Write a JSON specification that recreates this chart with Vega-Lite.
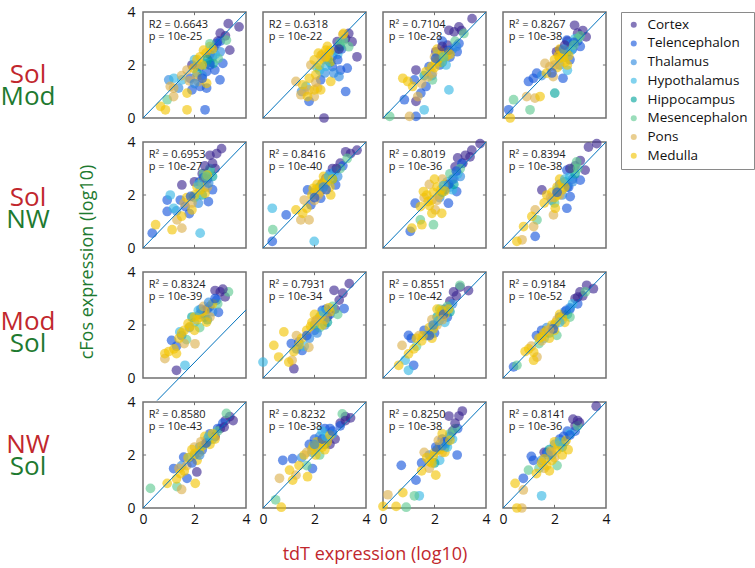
{
  "$schema": "https://vega.github.io/schema/vega-lite/v6.json",
  "background": "white",
  "padding": {"left": 0, "top": 5, "right": 5, "bottom": 5},
  "config": {
    "font": "Open Sans",
    "view": {"stroke": "#707070", "strokeWidth": 1.5},
    "axis": {"grid": false, "domain": false, "ticks": false, "labelFont": "Open Sans", "labelFontSize": 14, "labelColor": "#111111", "labelFlush": false},
    "axisX": {"labelPadding": 4},
    "axisY": {"labelPadding": 8},
    "legend": {"labelFont": "Open Sans", "labelFontSize": 13.5, "labelColor": "#111111"}
  },
  "datasets": {
    "regions": [
      {"g": "Co", "region": "Cortex"}, {"g": "Te", "region": "Telencephalon"}, {"g": "Th", "region": "Thalamus"}, {"g": "Hy", "region": "Hypothalamus"},
      {"g": "Hi", "region": "Hippocampus"}, {"g": "Me", "region": "Mesencephalon"}, {"g": "Po", "region": "Pons"}, {"g": "Md", "region": "Medulla"}
    ],
    "rowlab": [
      {"k": "a", "top": "Sol", "bot": "Mod"},
      {"k": "b", "top": "Sol", "bot": "NW"},
      {"k": "c", "top": "Mod", "bot": "Sol"},
      {"k": "d", "top": "NW", "bot": "Sol"}
    ],
    "pts": [
      {"r":1,"c":1,"t1":"R2 = 0.6643","t2":"p = 10e-25"},
      {"r":1,"c":2,"t1":"R2 = 0.6318","t2":"p = 10e-22"},
      {"r":1,"c":3,"t1":"R² = 0.7104","t2":"p = 10e-28"},
      {"r":1,"c":4,"t1":"R² = 0.8267","t2":"p = 10e-38"},
      {"r":2,"c":1,"t1":"R² = 0.6953","t2":"p = 10e-27"},
      {"r":2,"c":2,"t1":"R² = 0.8416","t2":"p = 10e-40"},
      {"r":2,"c":3,"t1":"R² = 0.8019","t2":"p = 10e-36"},
      {"r":2,"c":4,"t1":"R² = 0.8394","t2":"p = 10e-38"},
      {"r":3,"c":1,"t1":"R² = 0.8324","t2":"p = 10e-39"},
      {"r":3,"c":2,"t1":"R² = 0.7931","t2":"p = 10e-34"},
      {"r":3,"c":3,"t1":"R² = 0.8551","t2":"p = 10e-42"},
      {"r":3,"c":4,"t1":"R² = 0.9184","t2":"p = 10e-52"},
      {"r":4,"c":1,"t1":"R² = 0.8580","t2":"p = 10e-43"},
      {"r":4,"c":2,"t1":"R² = 0.8232","t2":"p = 10e-38"},
      {"r":4,"c":3,"t1":"R² = 0.8250","t2":"p = 10e-38"},
      {"r":4,"c":4,"t1":"R² = 0.8141","t2":"p = 10e-36"},

      {"r":1,"c":1,"lx":0,"ly":0,"lx2":4,"ly2":4},
      {"r":1,"c":2,"lx":0,"ly":0,"lx2":4,"ly2":4},
      {"r":1,"c":3,"lx":0,"ly":0,"lx2":4,"ly2":4},
      {"r":1,"c":4,"lx":0,"ly":0,"lx2":4,"ly2":4},
      {"r":2,"c":1,"lx":0,"ly":0,"lx2":4,"ly2":4},
      {"r":2,"c":2,"lx":0,"ly":0,"lx2":4,"ly2":4},
      {"r":2,"c":3,"lx":0,"ly":0,"lx2":4,"ly2":4},
      {"r":2,"c":4,"lx":0,"ly":0,"lx2":4,"ly2":4},
      {"r":3,"c":1,"lx":0.55,"ly":-0.85,"lx2":4,"ly2":2.57},
      {"r":3,"c":2,"lx":0,"ly":0,"lx2":4,"ly2":4},
      {"r":3,"c":3,"lx":0,"ly":0,"lx2":4,"ly2":4},
      {"r":3,"c":4,"lx":0,"ly":0,"lx2":4,"ly2":4},
      {"r":4,"c":1,"lx":0,"ly":0,"lx2":4,"ly2":4},
      {"r":4,"c":2,"lx":0,"ly":0,"lx2":4,"ly2":4},
      {"r":4,"c":3,"lx":0,"ly":0,"lx2":4,"ly2":4},
      {"r":4,"c":4,"lx":0,"ly":0,"lx2":4,"ly2":4},

      {"r":1,"c":1,"g":"Co","x":3.31,"y":3.56},{"r":1,"c":1,"g":"Co","x":3.73,"y":3.44},{"r":1,"c":1,"g":"Co","x":3.2,"y":3.1},{"r":1,"c":1,"g":"Co","x":3.37,"y":2.56},{"r":1,"c":1,"g":"Co","x":2.75,"y":2.65},{"r":1,"c":1,"g":"Co","x":2.6,"y":2.4},{"r":1,"c":1,"g":"Co","x":1.9,"y":2.0},{"r":1,"c":1,"g":"Co","x":2.9,"y":2.9},
      {"r":1,"c":1,"g":"Te","x":3.1,"y":2.06},{"r":1,"c":1,"g":"Te","x":2.99,"y":1.44},{"r":1,"c":1,"g":"Te","x":2.41,"y":0.31},{"r":1,"c":1,"g":"Te","x":2.22,"y":1.19},{"r":1,"c":1,"g":"Te","x":2.47,"y":1.13},{"r":1,"c":1,"g":"Te","x":2.86,"y":2.81},{"r":1,"c":1,"g":"Te","x":2.22,"y":1.94},{"r":1,"c":1,"g":"Te","x":2.47,"y":1.75},{"r":1,"c":1,"g":"Te","x":2.79,"y":1.81},{"r":1,"c":1,"g":"Te","x":1.83,"y":1.5},{"r":1,"c":1,"g":"Te","x":1.9,"y":1.06},{"r":1,"c":1,"g":"Te","x":2.7,"y":2.3},{"r":1,"c":1,"g":"Te","x":3.0,"y":2.9},
      {"r":1,"c":1,"g":"Th","x":1.0,"y":1.44},{"r":1,"c":1,"g":"Th","x":2.6,"y":2.1},{"r":1,"c":1,"g":"Th","x":1.38,"y":1.13},{"r":1,"c":1,"g":"Th","x":2.3,"y":1.6},{"r":1,"c":1,"g":"Th","x":3.0,"y":2.5},
      {"r":1,"c":1,"g":"Hy","x":1.51,"y":1.44},{"r":1,"c":1,"g":"Hy","x":2.47,"y":2.06},{"r":1,"c":1,"g":"Hy","x":1.2,"y":1.5},{"r":1,"c":1,"g":"Hy","x":2.0,"y":2.2},
      {"r":1,"c":1,"g":"Hi","x":2.73,"y":2.06},{"r":1,"c":1,"g":"Hi","x":2.1,"y":1.7},
      {"r":1,"c":1,"g":"Me","x":0.94,"y":0.69},{"r":1,"c":1,"g":"Me","x":3.24,"y":2.94},{"r":1,"c":1,"g":"Me","x":2.92,"y":2.25},{"r":1,"c":1,"g":"Me","x":2.4,"y":2.0},
      {"r":1,"c":1,"g":"Po","x":1.06,"y":1.19},{"r":1,"c":1,"g":"Po","x":1.19,"y":1.13},{"r":1,"c":1,"g":"Po","x":2.09,"y":1.56},{"r":1,"c":1,"g":"Po","x":1.71,"y":1.81},{"r":1,"c":1,"g":"Po","x":2.15,"y":1.38},{"r":1,"c":1,"g":"Po","x":1.19,"y":0.81},{"r":1,"c":1,"g":"Po","x":1.5,"y":1.6},
      {"r":1,"c":1,"g":"Md","x":1.71,"y":0.31},{"r":1,"c":1,"g":"Md","x":0.87,"y":0.31},{"r":1,"c":1,"g":"Md","x":0.68,"y":0.44},{"r":1,"c":1,"g":"Md","x":1.71,"y":0.94},{"r":1,"c":1,"g":"Md","x":1.96,"y":1.88},{"r":1,"c":1,"g":"Md","x":2.22,"y":2.31},{"r":1,"c":1,"g":"Md","x":2.35,"y":2.56},{"r":1,"c":1,"g":"Md","x":2.6,"y":2.69},{"r":1,"c":1,"g":"Md","x":2.47,"y":1.31},{"r":1,"c":1,"g":"Md","x":2.45,"y":2.45},{"r":1,"c":1,"g":"Md","x":2.1,"y":2.2},

      {"r":1,"c":2,"g":"Co","x":3.65,"y":2.31},{"r":1,"c":2,"g":"Co","x":3.33,"y":3.19},{"r":1,"c":2,"g":"Co","x":3.46,"y":2.88},{"r":1,"c":2,"g":"Co","x":2.88,"y":2.88},{"r":1,"c":2,"g":"Co","x":2.37,"y":0.0},{"r":1,"c":2,"g":"Co","x":3.2,"y":3.0},
      {"r":1,"c":2,"g":"Te","x":3.27,"y":1.88},{"r":1,"c":2,"g":"Te","x":3.01,"y":1.81},{"r":1,"c":2,"g":"Te","x":3.21,"y":1.0},{"r":1,"c":2,"g":"Te","x":2.24,"y":1.44},{"r":1,"c":2,"g":"Te","x":2.69,"y":1.94},{"r":1,"c":2,"g":"Te","x":2.82,"y":2.56},{"r":1,"c":2,"g":"Te","x":1.79,"y":0.63},{"r":1,"c":2,"g":"Te","x":3.05,"y":2.6},{"r":1,"c":2,"g":"Te","x":2.5,"y":2.2},
      {"r":1,"c":2,"g":"Th","x":2.95,"y":1.56},{"r":1,"c":2,"g":"Th","x":2.4,"y":1.7},{"r":1,"c":2,"g":"Th","x":1.5,"y":1.0},{"r":1,"c":2,"g":"Th","x":2.7,"y":2.35},
      {"r":1,"c":2,"g":"Hy","x":1.67,"y":1.19},{"r":1,"c":2,"g":"Hy","x":2.9,"y":2.4},{"r":1,"c":2,"g":"Hy","x":2.2,"y":1.8},
      {"r":1,"c":2,"g":"Hi","x":3.0,"y":2.7},{"r":1,"c":2,"g":"Hi","x":2.6,"y":2.1},
      {"r":1,"c":2,"g":"Me","x":3.33,"y":2.69},{"r":1,"c":2,"g":"Me","x":3.13,"y":2.94},{"r":1,"c":2,"g":"Me","x":2.1,"y":1.9},{"r":1,"c":2,"g":"Me","x":3.0,"y":2.85},
      {"r":1,"c":2,"g":"Po","x":3.1,"y":3.15},{"r":1,"c":2,"g":"Po","x":1.86,"y":2.0},{"r":1,"c":2,"g":"Po","x":1.28,"y":1.38},{"r":1,"c":2,"g":"Po","x":1.79,"y":1.06},{"r":1,"c":2,"g":"Po","x":2.12,"y":1.13},{"r":1,"c":2,"g":"Po","x":1.6,"y":1.0},{"r":1,"c":2,"g":"Po","x":1.47,"y":0.88},{"r":1,"c":2,"g":"Po","x":1.99,"y":0.81},{"r":1,"c":2,"g":"Po","x":2.4,"y":2.3},
      {"r":1,"c":2,"g":"Md","x":3.13,"y":3.19},{"r":1,"c":2,"g":"Md","x":2.44,"y":2.31},{"r":1,"c":2,"g":"Md","x":2.63,"y":2.13},{"r":1,"c":2,"g":"Md","x":2.44,"y":2.56},{"r":1,"c":2,"g":"Md","x":1.99,"y":2.19},{"r":1,"c":2,"g":"Md","x":1.54,"y":1.25},{"r":1,"c":2,"g":"Md","x":1.99,"y":1.06},{"r":1,"c":2,"g":"Md","x":2.24,"y":1.06},{"r":1,"c":2,"g":"Md","x":2.63,"y":1.38},{"r":1,"c":2,"g":"Md","x":2.05,"y":1.63},{"r":1,"c":2,"g":"Md","x":1.73,"y":0.81},{"r":1,"c":2,"g":"Md","x":2.3,"y":2.4},{"r":1,"c":2,"g":"Md","x":2.55,"y":2.45},{"r":1,"c":2,"g":"Md","x":2.2,"y":2.0},{"r":1,"c":2,"g":"Md","x":2.5,"y":2.7},

      {"r":1,"c":3,"g":"Co","x":3.46,"y":3.75},{"r":1,"c":3,"g":"Co","x":2.95,"y":3.44},{"r":1,"c":3,"g":"Co","x":2.56,"y":3.31},{"r":1,"c":3,"g":"Co","x":2.76,"y":3.25},{"r":1,"c":3,"g":"Co","x":2.05,"y":2.5},{"r":1,"c":3,"g":"Co","x":2.37,"y":2.56},{"r":1,"c":3,"g":"Co","x":1.28,"y":1.81},{"r":1,"c":3,"g":"Co","x":1.28,"y":0.63},{"r":1,"c":3,"g":"Co","x":2.5,"y":2.75},{"r":1,"c":3,"g":"Co","x":3.05,"y":3.3},
      {"r":1,"c":3,"g":"Te","x":2.88,"y":2.5},{"r":1,"c":3,"g":"Te","x":2.95,"y":2.81},{"r":1,"c":3,"g":"Te","x":1.79,"y":1.94},{"r":1,"c":3,"g":"Te","x":1.22,"y":1.44},{"r":1,"c":3,"g":"Te","x":1.47,"y":0.94},{"r":1,"c":3,"g":"Te","x":0.83,"y":0.69},{"r":1,"c":3,"g":"Te","x":1.28,"y":0.06},{"r":1,"c":3,"g":"Te","x":1.67,"y":1.19},{"r":1,"c":3,"g":"Te","x":2.2,"y":2.0},{"r":1,"c":3,"g":"Te","x":2.6,"y":2.3},{"r":1,"c":3,"g":"Te","x":2.3,"y":2.9},
      {"r":1,"c":3,"g":"Th","x":2.4,"y":2.3},{"r":1,"c":3,"g":"Th","x":1.9,"y":1.6},{"r":1,"c":3,"g":"Th","x":2.7,"y":2.6},
      {"r":1,"c":3,"g":"Hy","x":2.56,"y":1.06},{"r":1,"c":3,"g":"Hy","x":1.6,"y":0.31},{"r":1,"c":3,"g":"Hy","x":2.1,"y":2.4},
      {"r":1,"c":3,"g":"Hi","x":2.3,"y":2.1},{"r":1,"c":3,"g":"Hi","x":1.6,"y":1.6},
      {"r":1,"c":3,"g":"Me","x":3.14,"y":3.19},{"r":1,"c":3,"g":"Me","x":1.92,"y":1.44},{"r":1,"c":3,"g":"Me","x":0.26,"y":0.06},{"r":1,"c":3,"g":"Me","x":2.8,"y":2.9},
      {"r":1,"c":3,"g":"Po","x":1.92,"y":1.69},{"r":1,"c":3,"g":"Po","x":1.35,"y":0.81},{"r":1,"c":3,"g":"Po","x":1.03,"y":0.06},{"r":1,"c":3,"g":"Po","x":2.0,"y":2.3},{"r":1,"c":3,"g":"Po","x":1.5,"y":1.3},
      {"r":1,"c":3,"g":"Md","x":2.18,"y":2.25},{"r":1,"c":3,"g":"Md","x":2.44,"y":2.31},{"r":1,"c":3,"g":"Md","x":2.05,"y":2.13},{"r":1,"c":3,"g":"Md","x":1.67,"y":1.75},{"r":1,"c":3,"g":"Md","x":0.77,"y":1.5},{"r":1,"c":3,"g":"Md","x":0.96,"y":1.38},{"r":1,"c":3,"g":"Md","x":1.15,"y":1.19},{"r":1,"c":3,"g":"Md","x":2.3,"y":2.45},{"r":1,"c":3,"g":"Md","x":2.5,"y":2.5},{"r":1,"c":3,"g":"Md","x":1.9,"y":1.95},{"r":1,"c":3,"g":"Md","x":2.1,"y":2.6},

      {"r":1,"c":4,"g":"Co","x":2.78,"y":3.5},{"r":1,"c":4,"g":"Co","x":3.23,"y":3.06},{"r":1,"c":4,"g":"Co","x":2.2,"y":2.56},{"r":1,"c":4,"g":"Co","x":2.08,"y":2.5},{"r":1,"c":4,"g":"Co","x":2.9,"y":3.2},{"r":1,"c":4,"g":"Co","x":3.1,"y":3.3},{"r":1,"c":4,"g":"Co","x":2.5,"y":2.9},
      {"r":1,"c":4,"g":"Te","x":2.48,"y":2.94},{"r":1,"c":4,"g":"Te","x":2.7,"y":2.6},{"r":1,"c":4,"g":"Te","x":2.9,"y":2.9},{"r":1,"c":4,"g":"Te","x":1.31,"y":1.69},{"r":1,"c":4,"g":"Te","x":1.18,"y":1.5},{"r":1,"c":4,"g":"Te","x":0.99,"y":1.38},{"r":1,"c":4,"g":"Te","x":2.33,"y":1.5},{"r":1,"c":4,"g":"Te","x":0.22,"y":0.31},{"r":1,"c":4,"g":"Te","x":2.6,"y":2.2},{"r":1,"c":4,"g":"Te","x":3.0,"y":2.7},
      {"r":1,"c":4,"g":"Th","x":2.6,"y":2.8},{"r":1,"c":4,"g":"Th","x":2.2,"y":2.0},{"r":1,"c":4,"g":"Th","x":1.5,"y":1.6},
      {"r":1,"c":4,"g":"Hy","x":2.8,"y":3.0},{"r":1,"c":4,"g":"Hy","x":2.4,"y":2.3},{"r":1,"c":4,"g":"Hy","x":2.5,"y":1.8},
      {"r":1,"c":4,"g":"Hi","x":2.01,"y":0.94},{"r":1,"c":4,"g":"Hi","x":2.5,"y":2.5},
      {"r":1,"c":4,"g":"Me","x":2.91,"y":3.0},{"r":1,"c":4,"g":"Me","x":1.05,"y":0.31},{"r":1,"c":4,"g":"Me","x":0.41,"y":0.69},{"r":1,"c":4,"g":"Me","x":3.0,"y":3.1},
      {"r":1,"c":4,"g":"Po","x":1.63,"y":2.06},{"r":1,"c":4,"g":"Po","x":1.95,"y":1.56},{"r":1,"c":4,"g":"Po","x":1.24,"y":0.75},{"r":1,"c":4,"g":"Po","x":0.92,"y":0.81},{"r":1,"c":4,"g":"Po","x":1.82,"y":1.94},
      {"r":1,"c":4,"g":"Md","x":2.2,"y":2.25},{"r":1,"c":4,"g":"Md","x":2.4,"y":2.1},{"r":1,"c":4,"g":"Md","x":2.3,"y":2.4},{"r":1,"c":4,"g":"Md","x":2.1,"y":1.9},{"r":1,"c":4,"g":"Md","x":2.5,"y":2.0},{"r":1,"c":4,"g":"Md","x":1.69,"y":1.69},{"r":1,"c":4,"g":"Md","x":1.44,"y":0.81},{"r":1,"c":4,"g":"Md","x":0.28,"y":0.0},{"r":1,"c":4,"g":"Md","x":2.2,"y":2.6},{"r":1,"c":4,"g":"Md","x":2.45,"y":2.55},{"r":1,"c":4,"g":"Md","x":2.0,"y":2.2},

      {"r":2,"c":1,"g":"Co","x":3.05,"y":3.75},{"r":2,"c":1,"g":"Co","x":2.86,"y":3.56},{"r":2,"c":1,"g":"Co","x":2.6,"y":3.5},{"r":2,"c":1,"g":"Co","x":1.51,"y":2.38},{"r":2,"c":1,"g":"Co","x":2.3,"y":2.8},{"r":2,"c":1,"g":"Co","x":2.5,"y":2.6},{"r":2,"c":1,"g":"Co","x":2.0,"y":2.5},{"r":2,"c":1,"g":"Co","x":2.8,"y":3.0},
      {"r":2,"c":1,"g":"Te","x":2.54,"y":1.75},{"r":2,"c":1,"g":"Te","x":0.94,"y":1.81},{"r":2,"c":1,"g":"Te","x":1.45,"y":1.81},{"r":2,"c":1,"g":"Te","x":1.64,"y":1.56},{"r":2,"c":1,"g":"Te","x":0.94,"y":1.38},{"r":2,"c":1,"g":"Te","x":0.36,"y":0.56},{"r":2,"c":1,"g":"Te","x":2.2,"y":2.5},{"r":2,"c":1,"g":"Te","x":2.6,"y":2.9},{"r":2,"c":1,"g":"Te","x":1.8,"y":1.3},{"r":2,"c":1,"g":"Te","x":2.7,"y":2.2},
      {"r":2,"c":1,"g":"Th","x":2.15,"y":1.69},{"r":2,"c":1,"g":"Th","x":2.4,"y":2.3},{"r":2,"c":1,"g":"Th","x":1.3,"y":1.4},
      {"r":2,"c":1,"g":"Hy","x":1.06,"y":2.0},{"r":2,"c":1,"g":"Hy","x":1.19,"y":1.5},{"r":2,"c":1,"g":"Hy","x":1.96,"y":1.94},{"r":2,"c":1,"g":"Hy","x":2.22,"y":0.56},{"r":2,"c":1,"g":"Hy","x":2.6,"y":3.0},
      {"r":2,"c":1,"g":"Hi","x":2.3,"y":2.0},{"r":2,"c":1,"g":"Hi","x":2.7,"y":2.7},
      {"r":2,"c":1,"g":"Me","x":2.6,"y":2.94},{"r":2,"c":1,"g":"Me","x":2.35,"y":2.81},{"r":2,"c":1,"g":"Me","x":2.0,"y":1.9},
      {"r":2,"c":1,"g":"Po","x":1.32,"y":1.06},{"r":2,"c":1,"g":"Po","x":1.51,"y":0.75},{"r":2,"c":1,"g":"Po","x":2.5,"y":2.3},{"r":2,"c":1,"g":"Po","x":1.6,"y":1.7},
      {"r":2,"c":1,"g":"Md","x":2.22,"y":2.19},{"r":2,"c":1,"g":"Md","x":2.41,"y":2.06},{"r":2,"c":1,"g":"Md","x":0.49,"y":0.88},{"r":2,"c":1,"g":"Md","x":1.13,"y":0.69},{"r":2,"c":1,"g":"Md","x":1.9,"y":1.44},{"r":2,"c":1,"g":"Md","x":2.1,"y":2.3},{"r":2,"c":1,"g":"Md","x":2.3,"y":2.5},{"r":2,"c":1,"g":"Md","x":1.7,"y":1.9},{"r":2,"c":1,"g":"Md","x":1.5,"y":1.2},

      {"r":2,"c":2,"g":"Co","x":3.65,"y":3.69},{"r":2,"c":2,"g":"Co","x":3.21,"y":3.63},{"r":2,"c":2,"g":"Co","x":3.4,"y":3.56},{"r":2,"c":2,"g":"Co","x":2.44,"y":2.63},{"r":2,"c":2,"g":"Co","x":2.31,"y":2.44},{"r":2,"c":2,"g":"Co","x":3.0,"y":3.2},{"r":2,"c":2,"g":"Co","x":2.7,"y":3.0},
      {"r":2,"c":2,"g":"Te","x":1.73,"y":2.19},{"r":2,"c":2,"g":"Te","x":0.9,"y":1.25},{"r":2,"c":2,"g":"Te","x":0.36,"y":0.25},{"r":2,"c":2,"g":"Te","x":1.86,"y":1.63},{"r":2,"c":2,"g":"Te","x":2.24,"y":1.88},{"r":2,"c":2,"g":"Te","x":2.82,"y":2.38},{"r":2,"c":2,"g":"Te","x":2.6,"y":2.8},{"r":2,"c":2,"g":"Te","x":3.1,"y":3.1},
      {"r":2,"c":2,"g":"Th","x":2.5,"y":2.5},{"r":2,"c":2,"g":"Th","x":2.0,"y":2.1},{"r":2,"c":2,"g":"Th","x":2.9,"y":2.7},
      {"r":2,"c":2,"g":"Hy","x":0.36,"y":1.5},{"r":2,"c":2,"g":"Hy","x":1.99,"y":0.25},{"r":2,"c":2,"g":"Hy","x":2.8,"y":2.9},
      {"r":2,"c":2,"g":"Hi","x":2.2,"y":2.3},{"r":2,"c":2,"g":"Hi","x":2.7,"y":2.6},
      {"r":2,"c":2,"g":"Me","x":3.27,"y":3.38},{"r":2,"c":2,"g":"Me","x":0.38,"y":0.69},{"r":2,"c":2,"g":"Me","x":3.0,"y":3.0},
      {"r":2,"c":2,"g":"Po","x":1.6,"y":1.81},{"r":2,"c":2,"g":"Po","x":1.79,"y":1.06},{"r":2,"c":2,"g":"Po","x":1.47,"y":1.06},{"r":2,"c":2,"g":"Po","x":2.3,"y":2.2},{"r":2,"c":2,"g":"Po","x":2.0,"y":1.8},
      {"r":2,"c":2,"g":"Md","x":2.63,"y":2.0},{"r":2,"c":2,"g":"Md","x":1.28,"y":1.44},{"r":2,"c":2,"g":"Md","x":1.54,"y":1.31},{"r":2,"c":2,"g":"Md","x":2.4,"y":2.4},{"r":2,"c":2,"g":"Md","x":2.5,"y":2.6},{"r":2,"c":2,"g":"Md","x":2.2,"y":2.1},{"r":2,"c":2,"g":"Md","x":2.6,"y":2.3},{"r":2,"c":2,"g":"Md","x":2.35,"y":2.7},{"r":2,"c":2,"g":"Md","x":1.9,"y":2.0},{"r":2,"c":2,"g":"Md","x":2.1,"y":2.4},{"r":2,"c":2,"g":"Md","x":1.7,"y":1.5},

      {"r":2,"c":3,"g":"Co","x":3.77,"y":3.94},{"r":2,"c":3,"g":"Co","x":3.45,"y":3.69},{"r":2,"c":3,"g":"Co","x":3.38,"y":3.44},{"r":2,"c":3,"g":"Co","x":2.8,"y":3.06},{"r":2,"c":3,"g":"Co","x":3.1,"y":3.2},{"r":2,"c":3,"g":"Co","x":2.9,"y":3.4},
      {"r":2,"c":3,"g":"Te","x":3.06,"y":3.19},{"r":2,"c":3,"g":"Te","x":1.25,"y":1.69},{"r":2,"c":3,"g":"Te","x":2.54,"y":1.69},{"r":2,"c":3,"g":"Te","x":2.86,"y":2.13},{"r":2,"c":3,"g":"Te","x":2.7,"y":2.6},{"r":2,"c":3,"g":"Te","x":2.4,"y":2.2},{"r":2,"c":3,"g":"Te","x":1.06,"y":0.63},
      {"r":2,"c":3,"g":"Th","x":2.6,"y":2.3},{"r":2,"c":3,"g":"Th","x":2.2,"y":1.9},{"r":2,"c":3,"g":"Th","x":3.0,"y":2.7},
      {"r":2,"c":3,"g":"Hy","x":2.9,"y":2.8},{"r":2,"c":3,"g":"Hy","x":2.5,"y":2.5},{"r":2,"c":3,"g":"Hy","x":2.7,"y":2.2},
      {"r":2,"c":3,"g":"Hi","x":2.75,"y":2.4},{"r":2,"c":3,"g":"Hi","x":2.3,"y":2.1},
      {"r":2,"c":3,"g":"Me","x":1.45,"y":1.06},{"r":2,"c":3,"g":"Me","x":1.96,"y":0.88},{"r":2,"c":3,"g":"Me","x":3.0,"y":3.0},{"r":2,"c":3,"g":"Me","x":2.6,"y":2.8},
      {"r":2,"c":3,"g":"Po","x":2.03,"y":1.44},{"r":2,"c":3,"g":"Po","x":1.8,"y":2.4},{"r":2,"c":3,"g":"Po","x":2.3,"y":2.6},{"r":2,"c":3,"g":"Po","x":1.6,"y":1.9},
      {"r":2,"c":3,"g":"Md","x":1.57,"y":2.13},{"r":2,"c":3,"g":"Md","x":1.45,"y":1.56},{"r":2,"c":3,"g":"Md","x":1.9,"y":1.81},{"r":2,"c":3,"g":"Md","x":1.9,"y":1.31},{"r":2,"c":3,"g":"Md","x":2.28,"y":1.31},{"r":2,"c":3,"g":"Md","x":1.51,"y":0.88},{"r":2,"c":3,"g":"Md","x":1.12,"y":0.75},{"r":2,"c":3,"g":"Md","x":2.1,"y":2.3},{"r":2,"c":3,"g":"Md","x":2.0,"y":2.6},{"r":2,"c":3,"g":"Md","x":2.4,"y":2.4},{"r":2,"c":3,"g":"Md","x":1.7,"y":2.0},{"r":2,"c":3,"g":"Md","x":2.2,"y":2.0},{"r":2,"c":3,"g":"Md","x":1.8,"y":1.6},

      {"r":2,"c":4,"g":"Co","x":3.64,"y":3.94},{"r":2,"c":4,"g":"Co","x":3.32,"y":3.81},{"r":2,"c":4,"g":"Co","x":3.19,"y":2.94},{"r":2,"c":4,"g":"Co","x":1.51,"y":2.19},{"r":2,"c":4,"g":"Co","x":3.0,"y":3.3},{"r":2,"c":4,"g":"Co","x":2.8,"y":3.1},
      {"r":2,"c":4,"g":"Te","x":2.48,"y":2.94},{"r":2,"c":4,"g":"Te","x":3.0,"y":2.56},{"r":2,"c":4,"g":"Te","x":2.61,"y":1.94},{"r":2,"c":4,"g":"Te","x":2.48,"y":1.5},{"r":2,"c":4,"g":"Te","x":1.25,"y":0.44},{"r":2,"c":4,"g":"Te","x":2.7,"y":2.6},{"r":2,"c":4,"g":"Te","x":2.2,"y":2.4},
      {"r":2,"c":4,"g":"Th","x":2.5,"y":2.3},{"r":2,"c":4,"g":"Th","x":2.3,"y":2.0},{"r":2,"c":4,"g":"Th","x":1.9,"y":1.8},
      {"r":2,"c":4,"g":"Hy","x":2.6,"y":2.7},{"r":2,"c":4,"g":"Hy","x":2.1,"y":2.2},
      {"r":2,"c":4,"g":"Hi","x":2.4,"y":2.5},{"r":2,"c":4,"g":"Hi","x":2.8,"y":2.8},
      {"r":2,"c":4,"g":"Me","x":2.86,"y":3.25},{"r":2,"c":4,"g":"Me","x":1.32,"y":1.06},{"r":2,"c":4,"g":"Me","x":2.7,"y":3.0},{"r":2,"c":4,"g":"Me","x":2.0,"y":1.7},
      {"r":2,"c":4,"g":"Po","x":1.25,"y":1.44},{"r":2,"c":4,"g":"Po","x":1.19,"y":0.81},{"r":2,"c":4,"g":"Po","x":0.74,"y":0.31},{"r":2,"c":4,"g":"Po","x":1.96,"y":1.25},{"r":2,"c":4,"g":"Po","x":2.2,"y":2.0},
      {"r":2,"c":4,"g":"Md","x":2.03,"y":1.5},{"r":2,"c":4,"g":"Md","x":1.12,"y":1.19},{"r":2,"c":4,"g":"Md","x":0.8,"y":0.81},{"r":2,"c":4,"g":"Md","x":0.54,"y":0.25},{"r":2,"c":4,"g":"Md","x":2.1,"y":2.3},{"r":2,"c":4,"g":"Md","x":1.9,"y":2.1},{"r":2,"c":4,"g":"Md","x":2.3,"y":2.2},{"r":2,"c":4,"g":"Md","x":1.7,"y":2.0},{"r":2,"c":4,"g":"Md","x":1.6,"y":1.7},{"r":2,"c":4,"g":"Md","x":2.0,"y":1.9},{"r":2,"c":4,"g":"Md","x":2.2,"y":2.6},

      {"r":3,"c":1,"g":"Co","x":3.0,"y":3.25},{"r":3,"c":1,"g":"Co","x":3.19,"y":3.06},{"r":3,"c":1,"g":"Co","x":2.8,"y":3.3},{"r":3,"c":1,"g":"Co","x":2.5,"y":2.6},{"r":3,"c":1,"g":"Co","x":1.3,"y":0.29},
      {"r":3,"c":1,"g":"Te","x":2.86,"y":2.94},{"r":3,"c":1,"g":"Te","x":1.11,"y":1.42},{"r":3,"c":1,"g":"Te","x":2.93,"y":2.48},{"r":3,"c":1,"g":"Te","x":2.2,"y":2.4},{"r":3,"c":1,"g":"Te","x":1.5,"y":1.6},{"r":3,"c":1,"g":"Te","x":2.6,"y":2.7},{"r":3,"c":1,"g":"Te","x":1.3,"y":1.2},
      {"r":3,"c":1,"g":"Th","x":2.4,"y":2.3},{"r":3,"c":1,"g":"Th","x":1.8,"y":1.9},{"r":3,"c":1,"g":"Th","x":2.7,"y":2.5},
      {"r":3,"c":1,"g":"Hy","x":1.43,"y":1.74},{"r":3,"c":1,"g":"Hy","x":1.63,"y":0.48},{"r":3,"c":1,"g":"Hy","x":2.0,"y":2.1},
      {"r":3,"c":1,"g":"Hi","x":2.5,"y":2.2},{"r":3,"c":1,"g":"Hi","x":1.9,"y":2.3},
      {"r":3,"c":1,"g":"Me","x":3.32,"y":3.25},{"r":3,"c":1,"g":"Me","x":1.69,"y":1.45},{"r":3,"c":1,"g":"Me","x":2.9,"y":2.8},{"r":3,"c":1,"g":"Me","x":2.2,"y":1.9},
      {"r":3,"c":1,"g":"Po","x":2.02,"y":1.29},{"r":3,"c":1,"g":"Po","x":0.85,"y":0.73},{"r":3,"c":1,"g":"Po","x":1.6,"y":1.3},{"r":3,"c":1,"g":"Po","x":2.6,"y":2.3},
      {"r":3,"c":1,"g":"Md","x":0.85,"y":0.92},{"r":3,"c":1,"g":"Md","x":1.3,"y":0.92},{"r":3,"c":1,"g":"Md","x":1.82,"y":1.94},{"r":3,"c":1,"g":"Md","x":2.21,"y":2.29},{"r":3,"c":1,"g":"Md","x":2.47,"y":2.11},{"r":3,"c":1,"g":"Md","x":2.1,"y":2.2},{"r":3,"c":1,"g":"Md","x":2.3,"y":2.5},{"r":3,"c":1,"g":"Md","x":1.6,"y":1.8},{"r":3,"c":1,"g":"Md","x":1.2,"y":1.1},{"r":3,"c":1,"g":"Md","x":1.0,"y":1.0},{"r":3,"c":1,"g":"Md","x":2.0,"y":1.8},{"r":3,"c":1,"g":"Md","x":2.7,"y":2.8},{"r":3,"c":1,"g":"Md","x":1.4,"y":1.5},

      {"r":3,"c":2,"g":"Co","x":3.35,"y":3.56},{"r":3,"c":2,"g":"Co","x":2.76,"y":3.31},{"r":3,"c":2,"g":"Co","x":2.96,"y":2.94},{"r":3,"c":2,"g":"Co","x":1.2,"y":0.35},{"r":3,"c":2,"g":"Co","x":2.8,"y":2.6},{"r":3,"c":2,"g":"Co","x":2.5,"y":2.3},
      {"r":3,"c":2,"g":"Te","x":3.15,"y":2.62},{"r":3,"c":2,"g":"Te","x":1.39,"y":1.36},{"r":3,"c":2,"g":"Te","x":1.52,"y":1.04},{"r":3,"c":2,"g":"Te","x":2.3,"y":2.55},{"r":3,"c":2,"g":"Te","x":2.0,"y":1.8},{"r":3,"c":2,"g":"Te","x":1.1,"y":1.3},{"r":3,"c":2,"g":"Te","x":2.6,"y":2.4},
      {"r":3,"c":2,"g":"Th","x":1.8,"y":1.5},{"r":3,"c":2,"g":"Th","x":2.4,"y":2.0},{"r":3,"c":2,"g":"Th","x":1.3,"y":1.1},
      {"r":3,"c":2,"g":"Hy","x":0.0,"y":0.6},{"r":3,"c":2,"g":"Hy","x":2.2,"y":2.3},{"r":3,"c":2,"g":"Hy","x":1.6,"y":1.2},
      {"r":3,"c":2,"g":"Hi","x":2.5,"y":2.1},{"r":3,"c":2,"g":"Hi","x":2.0,"y":2.0},
      {"r":3,"c":2,"g":"Me","x":2.7,"y":2.7},{"r":3,"c":2,"g":"Me","x":2.2,"y":1.9},{"r":3,"c":2,"g":"Me","x":2.9,"y":2.4},
      {"r":3,"c":2,"g":"Po","x":1.13,"y":0.67},{"r":3,"c":2,"g":"Po","x":1.78,"y":1.16},{"r":3,"c":2,"g":"Po","x":1.3,"y":1.6},{"r":3,"c":2,"g":"Po","x":2.4,"y":2.2},
      {"r":3,"c":2,"g":"Md","x":0.42,"y":1.23},{"r":3,"c":2,"g":"Md","x":0.81,"y":1.74},{"r":3,"c":2,"g":"Md","x":0.61,"y":0.79},{"r":3,"c":2,"g":"Md","x":1.0,"y":0.6},{"r":3,"c":2,"g":"Md","x":1.9,"y":2.1},{"r":3,"c":2,"g":"Md","x":2.1,"y":2.2},{"r":3,"c":2,"g":"Md","x":2.3,"y":2.0},{"r":3,"c":2,"g":"Md","x":1.7,"y":1.8},{"r":3,"c":2,"g":"Md","x":1.5,"y":1.5},{"r":3,"c":2,"g":"Md","x":2.6,"y":2.5},{"r":3,"c":2,"g":"Md","x":2.0,"y":2.4},{"r":3,"c":2,"g":"Md","x":1.2,"y":1.0},

      {"r":3,"c":3,"g":"Co","x":2.99,"y":3.43},{"r":3,"c":3,"g":"Co","x":3.32,"y":3.3},{"r":3,"c":3,"g":"Co","x":2.74,"y":3.25},{"r":3,"c":3,"g":"Co","x":2.4,"y":2.6},{"r":3,"c":3,"g":"Co","x":2.6,"y":2.9},
      {"r":3,"c":3,"g":"Te","x":0.99,"y":1.61},{"r":3,"c":3,"g":"Te","x":1.19,"y":0.48},{"r":3,"c":3,"g":"Te","x":2.2,"y":2.2},{"r":3,"c":3,"g":"Te","x":2.5,"y":2.3},{"r":3,"c":3,"g":"Te","x":1.6,"y":1.8},{"r":3,"c":3,"g":"Te","x":1.1,"y":1.5},{"r":3,"c":3,"g":"Te","x":2.0,"y":1.7},
      {"r":3,"c":3,"g":"Th","x":2.3,"y":2.5},{"r":3,"c":3,"g":"Th","x":1.7,"y":1.6},{"r":3,"c":3,"g":"Th","x":2.7,"y":2.8},
      {"r":3,"c":3,"g":"Hy","x":0.86,"y":0.67},{"r":3,"c":3,"g":"Hy","x":0.99,"y":0.29},{"r":3,"c":3,"g":"Hy","x":1.9,"y":1.7},{"r":3,"c":3,"g":"Hy","x":2.4,"y":2.1},
      {"r":3,"c":3,"g":"Hi","x":2.6,"y":2.5},{"r":3,"c":3,"g":"Hi","x":2.1,"y":2.3},
      {"r":3,"c":3,"g":"Me","x":2.99,"y":3.5},{"r":3,"c":3,"g":"Me","x":2.5,"y":2.7},{"r":3,"c":3,"g":"Me","x":2.2,"y":2.6},{"r":3,"c":3,"g":"Me","x":1.3,"y":1.2},
      {"r":3,"c":3,"g":"Po","x":0.74,"y":1.23},{"r":3,"c":3,"g":"Po","x":1.4,"y":1.6},{"r":3,"c":3,"g":"Po","x":2.1,"y":2.0},{"r":3,"c":3,"g":"Po","x":1.9,"y":2.2},
      {"r":3,"c":3,"g":"Md","x":0.99,"y":0.91},{"r":3,"c":3,"g":"Md","x":0.61,"y":0.48},{"r":3,"c":3,"g":"Md","x":2.28,"y":2.55},{"r":3,"c":3,"g":"Md","x":2.0,"y":2.0},{"r":3,"c":3,"g":"Md","x":2.2,"y":2.3},{"r":3,"c":3,"g":"Md","x":1.8,"y":1.9},{"r":3,"c":3,"g":"Md","x":1.5,"y":1.4},{"r":3,"c":3,"g":"Md","x":1.3,"y":1.5},{"r":3,"c":3,"g":"Md","x":2.4,"y":2.4},{"r":3,"c":3,"g":"Md","x":1.9,"y":1.5},{"r":3,"c":3,"g":"Md","x":1.2,"y":1.1},{"r":3,"c":3,"g":"Md","x":2.1,"y":2.6},

      {"r":3,"c":4,"g":"Co","x":3.25,"y":3.5},{"r":3,"c":4,"g":"Co","x":3.51,"y":3.37},{"r":3,"c":4,"g":"Co","x":2.99,"y":3.25},{"r":3,"c":4,"g":"Co","x":3.1,"y":3.1},{"r":3,"c":4,"g":"Co","x":2.8,"y":3.0},
      {"r":3,"c":4,"g":"Te","x":0.41,"y":0.42},{"r":3,"c":4,"g":"Te","x":2.6,"y":2.6},{"r":3,"c":4,"g":"Te","x":2.2,"y":2.3},{"r":3,"c":4,"g":"Te","x":1.5,"y":1.8},{"r":3,"c":4,"g":"Te","x":1.3,"y":1.6},{"r":3,"c":4,"g":"Te","x":2.9,"y":2.8},
      {"r":3,"c":4,"g":"Th","x":2.4,"y":2.5},{"r":3,"c":4,"g":"Th","x":1.7,"y":1.9},{"r":3,"c":4,"g":"Th","x":2.0,"y":2.0},
      {"r":3,"c":4,"g":"Hy","x":2.7,"y":2.8},{"r":3,"c":4,"g":"Hy","x":1.6,"y":1.5},{"r":3,"c":4,"g":"Hy","x":2.3,"y":2.2},
      {"r":3,"c":4,"g":"Hi","x":2.5,"y":2.4},{"r":3,"c":4,"g":"Hi","x":1.8,"y":1.7},
      {"r":3,"c":4,"g":"Me","x":3.2,"y":3.25},{"r":3,"c":4,"g":"Me","x":2.09,"y":1.61},{"r":3,"c":4,"g":"Me","x":0.54,"y":0.48},{"r":3,"c":4,"g":"Me","x":2.6,"y":2.3},{"r":3,"c":4,"g":"Me","x":1.4,"y":1.3},
      {"r":3,"c":4,"g":"Po","x":1.32,"y":0.79},{"r":3,"c":4,"g":"Po","x":1.5,"y":1.4},{"r":3,"c":4,"g":"Po","x":2.1,"y":2.2},{"r":3,"c":4,"g":"Po","x":1.1,"y":1.2},
      {"r":3,"c":4,"g":"Md","x":0.86,"y":1.0},{"r":3,"c":4,"g":"Md","x":1.19,"y":0.67},{"r":3,"c":4,"g":"Md","x":1.19,"y":0.98},{"r":3,"c":4,"g":"Md","x":1.6,"y":1.7},{"r":3,"c":4,"g":"Md","x":1.9,"y":2.0},{"r":3,"c":4,"g":"Md","x":2.2,"y":2.4},{"r":3,"c":4,"g":"Md","x":2.4,"y":2.1},{"r":3,"c":4,"g":"Md","x":1.8,"y":1.5},{"r":3,"c":4,"g":"Md","x":1.4,"y":1.5},{"r":3,"c":4,"g":"Md","x":2.0,"y":1.8},{"r":3,"c":4,"g":"Md","x":1.0,"y":1.1},

      {"r":4,"c":1,"g":"Co","x":3.37,"y":3.45},{"r":4,"c":1,"g":"Co","x":3.5,"y":3.3},{"r":4,"c":1,"g":"Co","x":3.2,"y":3.3},{"r":4,"c":1,"g":"Co","x":3.0,"y":3.0},{"r":4,"c":1,"g":"Co","x":2.09,"y":1.36},{"r":4,"c":1,"g":"Co","x":2.8,"y":2.7},
      {"r":4,"c":1,"g":"Te","x":1.19,"y":1.49},{"r":4,"c":1,"g":"Te","x":1.71,"y":1.12},{"r":4,"c":1,"g":"Te","x":1.58,"y":1.92},{"r":4,"c":1,"g":"Te","x":2.6,"y":2.8},{"r":4,"c":1,"g":"Te","x":3.1,"y":3.2},{"r":4,"c":1,"g":"Te","x":2.3,"y":2.2},{"r":4,"c":1,"g":"Te","x":2.9,"y":3.0},
      {"r":4,"c":1,"g":"Th","x":2.0,"y":2.0},{"r":4,"c":1,"g":"Th","x":2.5,"y":2.6},{"r":4,"c":1,"g":"Th","x":1.5,"y":1.6},
      {"r":4,"c":1,"g":"Hy","x":2.7,"y":2.6},{"r":4,"c":1,"g":"Hy","x":1.8,"y":1.9},{"r":4,"c":1,"g":"Hy","x":2.4,"y":2.4},
      {"r":4,"c":1,"g":"Hi","x":2.5,"y":2.5},{"r":4,"c":1,"g":"Hi","x":2.2,"y":2.3},
      {"r":4,"c":1,"g":"Me","x":3.24,"y":3.57},{"r":4,"c":1,"g":"Me","x":0.29,"y":0.74},{"r":4,"c":1,"g":"Me","x":1.32,"y":0.81},{"r":4,"c":1,"g":"Me","x":2.9,"y":2.9},
      {"r":4,"c":1,"g":"Po","x":1.4,"y":1.5},{"r":4,"c":1,"g":"Po","x":2.0,"y":2.3},{"r":4,"c":1,"g":"Po","x":1.7,"y":1.6},{"r":4,"c":1,"g":"Po","x":1.5,"y":0.7},
      {"r":4,"c":1,"g":"Md","x":2.03,"y":0.93},{"r":4,"c":1,"g":"Md","x":0.94,"y":0.93},{"r":4,"c":1,"g":"Md","x":1.45,"y":1.3},{"r":4,"c":1,"g":"Md","x":2.2,"y":2.1},{"r":4,"c":1,"g":"Md","x":2.4,"y":2.7},{"r":4,"c":1,"g":"Md","x":2.6,"y":2.4},{"r":4,"c":1,"g":"Md","x":1.9,"y":2.2},{"r":4,"c":1,"g":"Md","x":1.6,"y":1.4},{"r":4,"c":1,"g":"Md","x":2.8,"y":2.6},{"r":4,"c":1,"g":"Md","x":2.1,"y":1.8},{"r":4,"c":1,"g":"Md","x":1.3,"y":1.1},

      {"r":4,"c":2,"g":"Co","x":3.2,"y":3.45},{"r":4,"c":2,"g":"Co","x":3.4,"y":3.4},{"r":4,"c":2,"g":"Co","x":3.0,"y":3.2},{"r":4,"c":2,"g":"Co","x":2.6,"y":2.4},{"r":4,"c":2,"g":"Co","x":2.8,"y":2.6},
      {"r":4,"c":2,"g":"Te","x":0.77,"y":1.8},{"r":4,"c":2,"g":"Te","x":1.15,"y":1.86},{"r":4,"c":2,"g":"Te","x":1.92,"y":1.49},{"r":4,"c":2,"g":"Te","x":2.4,"y":3.0},{"r":4,"c":2,"g":"Te","x":2.6,"y":3.0},{"r":4,"c":2,"g":"Te","x":2.0,"y":2.6},{"r":4,"c":2,"g":"Te","x":1.8,"y":2.4},{"r":4,"c":2,"g":"Te","x":3.0,"y":3.1},
      {"r":4,"c":2,"g":"Th","x":2.2,"y":2.7},{"r":4,"c":2,"g":"Th","x":1.5,"y":1.9},{"r":4,"c":2,"g":"Th","x":2.5,"y":2.6},
      {"r":4,"c":2,"g":"Hy","x":2.3,"y":2.9},{"r":4,"c":2,"g":"Hy","x":1.9,"y":2.1},{"r":4,"c":2,"g":"Hy","x":2.7,"y":2.8},
      {"r":4,"c":2,"g":"Hi","x":2.1,"y":2.3},{"r":4,"c":2,"g":"Hi","x":2.4,"y":2.4},
      {"r":4,"c":2,"g":"Me","x":0.49,"y":0.31},{"r":4,"c":2,"g":"Me","x":3.08,"y":3.55},{"r":4,"c":2,"g":"Me","x":2.2,"y":2.0},{"r":4,"c":2,"g":"Me","x":1.7,"y":1.6},
      {"r":4,"c":2,"g":"Po","x":0.64,"y":1.12},{"r":4,"c":2,"g":"Po","x":1.28,"y":1.24},{"r":4,"c":2,"g":"Po","x":2.0,"y":2.3},{"r":4,"c":2,"g":"Po","x":2.3,"y":2.4},
      {"r":4,"c":2,"g":"Md","x":0.71,"y":0.03},{"r":4,"c":2,"g":"Md","x":1.15,"y":1.05},{"r":4,"c":2,"g":"Md","x":1.03,"y":1.43},{"r":4,"c":2,"g":"Md","x":1.73,"y":1.18},{"r":4,"c":2,"g":"Md","x":2.1,"y":2.5},{"r":4,"c":2,"g":"Md","x":2.3,"y":2.3},{"r":4,"c":2,"g":"Md","x":1.9,"y":2.2},{"r":4,"c":2,"g":"Md","x":2.5,"y":2.5},{"r":4,"c":2,"g":"Md","x":1.6,"y":2.0},{"r":4,"c":2,"g":"Md","x":1.4,"y":1.6},{"r":4,"c":2,"g":"Md","x":2.4,"y":2.2},

      {"r":4,"c":3,"g":"Co","x":3.08,"y":3.66},{"r":4,"c":3,"g":"Co","x":2.56,"y":3.47},{"r":4,"c":3,"g":"Co","x":2.95,"y":3.47},{"r":4,"c":3,"g":"Co","x":2.4,"y":2.4},{"r":4,"c":3,"g":"Co","x":2.7,"y":2.9},
      {"r":4,"c":3,"g":"Te","x":0.71,"y":1.61},{"r":4,"c":3,"g":"Te","x":1.28,"y":1.05},{"r":4,"c":3,"g":"Te","x":2.88,"y":2.0},{"r":4,"c":3,"g":"Te","x":2.3,"y":2.6},{"r":4,"c":3,"g":"Te","x":2.6,"y":2.7},{"r":4,"c":3,"g":"Te","x":1.5,"y":1.7},{"r":4,"c":3,"g":"Te","x":2.9,"y":3.0},
      {"r":4,"c":3,"g":"Th","x":2.1,"y":2.2},{"r":4,"c":3,"g":"Th","x":1.8,"y":2.0},{"r":4,"c":3,"g":"Th","x":2.5,"y":2.5},
      {"r":4,"c":3,"g":"Hy","x":1.41,"y":0.46},{"r":4,"c":3,"g":"Hy","x":2.2,"y":1.8},{"r":4,"c":3,"g":"Hy","x":2.7,"y":2.6},
      {"r":4,"c":3,"g":"Hi","x":2.4,"y":2.3},{"r":4,"c":3,"g":"Hi","x":2.0,"y":1.7},
      {"r":4,"c":3,"g":"Me","x":0.9,"y":0.03},{"r":4,"c":3,"g":"Me","x":1.22,"y":0.46},{"r":4,"c":3,"g":"Me","x":2.8,"y":3.0},{"r":4,"c":3,"g":"Me","x":2.6,"y":2.8},
      {"r":4,"c":3,"g":"Po","x":0.19,"y":0.5},{"r":4,"c":3,"g":"Po","x":1.6,"y":2.1},{"r":4,"c":3,"g":"Po","x":2.3,"y":2.1},{"r":4,"c":3,"g":"Po","x":1.8,"y":1.5},
      {"r":4,"c":3,"g":"Md","x":0.51,"y":0.06},{"r":4,"c":3,"g":"Md","x":0.77,"y":0.58},{"r":4,"c":3,"g":"Md","x":0.0,"y":0.06},{"r":4,"c":3,"g":"Md","x":2.05,"y":1.24},{"r":4,"c":3,"g":"Md","x":1.7,"y":1.9},{"r":4,"c":3,"g":"Md","x":2.0,"y":2.1},{"r":4,"c":3,"g":"Md","x":2.2,"y":2.4},{"r":4,"c":3,"g":"Md","x":1.9,"y":1.7},{"r":4,"c":3,"g":"Md","x":2.4,"y":2.1},{"r":4,"c":3,"g":"Md","x":1.5,"y":1.4},{"r":4,"c":3,"g":"Md","x":2.3,"y":2.8},

      {"r":4,"c":4,"g":"Co","x":3.62,"y":3.84},{"r":4,"c":4,"g":"Co","x":2.72,"y":3.35},{"r":4,"c":4,"g":"Co","x":2.97,"y":3.22},{"r":4,"c":4,"g":"Co","x":2.8,"y":3.1},{"r":4,"c":4,"g":"Co","x":1.6,"y":2.1},
      {"r":4,"c":4,"g":"Te","x":0.79,"y":1.12},{"r":4,"c":4,"g":"Te","x":1.18,"y":1.8},{"r":4,"c":4,"g":"Te","x":1.1,"y":1.95},{"r":4,"c":4,"g":"Te","x":2.5,"y":2.9},{"r":4,"c":4,"g":"Te","x":2.2,"y":2.6},{"r":4,"c":4,"g":"Te","x":1.7,"y":2.1},{"r":4,"c":4,"g":"Te","x":2.8,"y":2.9},
      {"r":4,"c":4,"g":"Th","x":2.0,"y":2.4},{"r":4,"c":4,"g":"Th","x":1.5,"y":1.8},{"r":4,"c":4,"g":"Th","x":2.4,"y":2.5},
      {"r":4,"c":4,"g":"Hy","x":1.5,"y":0.46},{"r":4,"c":4,"g":"Hy","x":2.6,"y":2.8},{"r":4,"c":4,"g":"Hy","x":1.9,"y":2.0},
      {"r":4,"c":4,"g":"Hi","x":2.3,"y":2.3},{"r":4,"c":4,"g":"Hi","x":1.8,"y":2.2},
      {"r":4,"c":4,"g":"Me","x":0.99,"y":1.43},{"r":4,"c":4,"g":"Me","x":2.9,"y":3.1},{"r":4,"c":4,"g":"Me","x":1.4,"y":1.5},{"r":4,"c":4,"g":"Me","x":2.1,"y":1.6},
      {"r":4,"c":4,"g":"Po","x":0.73,"y":0.0},{"r":4,"c":4,"g":"Po","x":0.79,"y":0.68},{"r":4,"c":4,"g":"Po","x":1.6,"y":1.5},{"r":4,"c":4,"g":"Po","x":2.0,"y":1.9},
      {"r":4,"c":4,"g":"Md","x":0.54,"y":0.0},{"r":4,"c":4,"g":"Md","x":0.47,"y":0.93},{"r":4,"c":4,"g":"Md","x":2.53,"y":2.2},{"r":4,"c":4,"g":"Md","x":1.9,"y":1.8},{"r":4,"c":4,"g":"Md","x":1.7,"y":1.6},{"r":4,"c":4,"g":"Md","x":2.1,"y":2.2},{"r":4,"c":4,"g":"Md","x":1.5,"y":1.7},{"r":4,"c":4,"g":"Md","x":2.3,"y":2.0},{"r":4,"c":4,"g":"Md","x":1.3,"y":1.3},{"r":4,"c":4,"g":"Md","x":2.0,"y":2.5},{"r":4,"c":4,"g":"Md","x":1.8,"y":1.4},

      {"r":1,"c":1,"g":"Co","x":3.0,"y":3.2},{"r":1,"c":1,"g":"Te","x":2.6,"y":2.0},{"r":1,"c":1,"g":"Te","x":2.3,"y":1.5},{"r":1,"c":1,"g":"Hy","x":2.8,"y":2.4},{"r":1,"c":1,"g":"Hi","x":2.5,"y":2.2},{"r":1,"c":1,"g":"Md","x":2.3,"y":2.0},{"r":1,"c":1,"g":"Md","x":2.7,"y":2.6},{"r":1,"c":1,"g":"Po","x":1.8,"y":1.4},{"r":1,"c":1,"g":"Th","x":2.0,"y":1.3},{"r":1,"c":1,"g":"Me","x":2.6,"y":2.8},
      {"r":1,"c":2,"g":"Md","x":2.35,"y":2.2},{"r":1,"c":2,"g":"Md","x":2.6,"y":2.55},{"r":1,"c":2,"g":"Po","x":2.25,"y":2.35},{"r":1,"c":2,"g":"Te","x":2.9,"y":2.2},{"r":1,"c":2,"g":"Th","x":2.75,"y":1.7},{"r":1,"c":2,"g":"Hy","x":2.45,"y":1.95},{"r":1,"c":2,"g":"Md","x":1.8,"y":1.5},{"r":1,"c":2,"g":"Po","x":2.05,"y":1.35},{"r":1,"c":2,"g":"Co","x":2.95,"y":2.6},{"r":1,"c":2,"g":"Md","x":2.15,"y":2.45},
      {"r":1,"c":3,"g":"Co","x":2.3,"y":2.7},{"r":1,"c":3,"g":"Te","x":2.55,"y":2.55},{"r":1,"c":3,"g":"Md","x":2.25,"y":2.1},{"r":1,"c":3,"g":"Md","x":2.0,"y":1.9},{"r":1,"c":3,"g":"Po","x":1.75,"y":1.55},{"r":1,"c":3,"g":"Te","x":2.05,"y":2.25},{"r":1,"c":3,"g":"Hy","x":2.45,"y":2.0},{"r":1,"c":3,"g":"Md","x":2.6,"y":2.4},{"r":1,"c":3,"g":"Th","x":2.85,"y":2.7},{"r":1,"c":3,"g":"Me","x":2.35,"y":2.3},
      {"r":1,"c":4,"g":"Md","x":2.35,"y":2.3},{"r":1,"c":4,"g":"Md","x":2.15,"y":2.35},{"r":1,"c":4,"g":"Te","x":2.75,"y":2.85},{"r":1,"c":4,"g":"Co","x":2.4,"y":2.75},{"r":1,"c":4,"g":"Hy","x":2.65,"y":2.55},{"r":1,"c":4,"g":"Md","x":2.55,"y":2.35},{"r":1,"c":4,"g":"Th","x":2.35,"y":2.6},{"r":1,"c":4,"g":"Po","x":2.0,"y":2.0},{"r":1,"c":4,"g":"Te","x":1.9,"y":1.7},{"r":1,"c":4,"g":"Me","x":2.75,"y":2.75},
      {"r":2,"c":1,"g":"Co","x":2.4,"y":3.1},{"r":2,"c":1,"g":"Te","x":2.35,"y":2.65},{"r":2,"c":1,"g":"Md","x":2.0,"y":2.0},{"r":2,"c":1,"g":"Hy","x":2.15,"y":2.4},{"r":2,"c":1,"g":"Th","x":2.55,"y":2.45},{"r":2,"c":1,"g":"Te","x":1.85,"y":1.95},{"r":2,"c":1,"g":"Md","x":2.5,"y":2.75},{"r":2,"c":1,"g":"Me","x":2.45,"y":2.7},{"r":2,"c":1,"g":"Po","x":1.9,"y":1.7},{"r":2,"c":1,"g":"Co","x":2.7,"y":3.2},
      {"r":2,"c":2,"g":"Md","x":2.3,"y":2.45},{"r":2,"c":2,"g":"Md","x":2.05,"y":2.2},{"r":2,"c":2,"g":"Te","x":2.45,"y":2.2},{"r":2,"c":2,"g":"Co","x":2.85,"y":3.0},{"r":2,"c":2,"g":"Md","x":1.95,"y":2.25},{"r":2,"c":2,"g":"Po","x":2.15,"y":2.0},{"r":2,"c":2,"g":"Th","x":2.35,"y":2.3},{"r":2,"c":2,"g":"Te","x":2.0,"y":1.9},{"r":2,"c":2,"g":"Hy","x":2.55,"y":2.7},{"r":2,"c":2,"g":"Md","x":2.7,"y":2.6},
      {"r":2,"c":3,"g":"Md","x":2.25,"y":2.2},{"r":2,"c":3,"g":"Te","x":2.55,"y":2.4},{"r":2,"c":3,"g":"Md","x":1.95,"y":2.1},{"r":2,"c":3,"g":"Co","x":3.2,"y":3.5},{"r":2,"c":3,"g":"Hy","x":2.35,"y":2.35},{"r":2,"c":3,"g":"Po","x":2.1,"y":1.8},{"r":2,"c":3,"g":"Te","x":2.85,"y":2.9},{"r":2,"c":3,"g":"Md","x":2.4,"y":2.15},{"r":2,"c":3,"g":"Th","x":2.75,"y":2.6},{"r":2,"c":3,"g":"Md","x":1.75,"y":1.75},
      {"r":2,"c":4,"g":"Md","x":2.3,"y":2.45},{"r":2,"c":4,"g":"Md","x":2.1,"y":2.0},{"r":2,"c":4,"g":"Te","x":2.55,"y":2.3},{"r":2,"c":4,"g":"Co","x":2.6,"y":3.0},{"r":2,"c":4,"g":"Po","x":1.85,"y":1.9},{"r":2,"c":4,"g":"Md","x":2.4,"y":2.3},{"r":2,"c":4,"g":"Hy","x":2.4,"y":2.6},{"r":2,"c":4,"g":"Th","x":2.7,"y":2.5},{"r":2,"c":4,"g":"Te","x":2.1,"y":2.1},{"r":2,"c":4,"g":"Me","x":2.9,"y":3.0},
      {"r":3,"c":1,"g":"Md","x":2.4,"y":2.55},{"r":3,"c":1,"g":"Te","x":2.25,"y":2.6},{"r":3,"c":1,"g":"Md","x":2.0,"y":2.3},{"r":3,"c":1,"g":"Co","x":3.1,"y":3.35},{"r":3,"c":1,"g":"Hy","x":2.15,"y":2.55},{"r":3,"c":1,"g":"Md","x":1.75,"y":2.05},{"r":3,"c":1,"g":"Po","x":2.35,"y":2.7},{"r":3,"c":1,"g":"Th","x":2.55,"y":2.85},{"r":3,"c":1,"g":"Md","x":1.5,"y":1.7},{"r":3,"c":1,"g":"Te","x":2.8,"y":3.0},
      {"r":3,"c":2,"g":"Md","x":2.25,"y":2.35},{"r":3,"c":2,"g":"Te","x":2.45,"y":2.6},{"r":3,"c":2,"g":"Md","x":1.85,"y":1.95},{"r":3,"c":2,"g":"Co","x":3.1,"y":3.2},{"r":3,"c":2,"g":"Po","x":2.05,"y":2.15},{"r":3,"c":2,"g":"Hy","x":2.35,"y":2.5},{"r":3,"c":2,"g":"Md","x":2.55,"y":2.65},{"r":3,"c":2,"g":"Th","x":2.1,"y":1.7},{"r":3,"c":2,"g":"Te","x":1.7,"y":1.6},{"r":3,"c":2,"g":"Md","x":1.4,"y":1.25},
      {"r":3,"c":3,"g":"Md","x":2.3,"y":2.35},{"r":3,"c":3,"g":"Te","x":2.35,"y":2.4},{"r":3,"c":3,"g":"Md","x":1.95,"y":1.85},{"r":3,"c":3,"g":"Co","x":2.85,"y":3.1},{"r":3,"c":3,"g":"Hy","x":2.15,"y":2.15},{"r":3,"c":3,"g":"Md","x":2.55,"y":2.6},{"r":3,"c":3,"g":"Th","x":1.95,"y":2.0},{"r":3,"c":3,"g":"Te","x":1.8,"y":1.6},{"r":3,"c":3,"g":"Po","x":2.3,"y":2.2},{"r":3,"c":3,"g":"Md","x":1.55,"y":1.6},
      {"r":3,"c":4,"g":"Md","x":2.3,"y":2.3},{"r":3,"c":4,"g":"Te","x":2.45,"y":2.55},{"r":3,"c":4,"g":"Md","x":1.7,"y":1.8},{"r":3,"c":4,"g":"Co","x":2.9,"y":3.05},{"r":3,"c":4,"g":"Hy","x":2.2,"y":2.1},{"r":3,"c":4,"g":"Md","x":2.05,"y":2.1},{"r":3,"c":4,"g":"Th","x":2.6,"y":2.65},{"r":3,"c":4,"g":"Te","x":1.95,"y":1.85},{"r":3,"c":4,"g":"Po","x":1.8,"y":1.8},{"r":3,"c":4,"g":"Md","x":1.5,"y":1.55},
      {"r":4,"c":1,"g":"Md","x":2.3,"y":2.35},{"r":4,"c":1,"g":"Te","x":2.45,"y":2.45},{"r":4,"c":1,"g":"Md","x":2.0,"y":2.05},{"r":4,"c":1,"g":"Co","x":3.15,"y":3.05},{"r":4,"c":1,"g":"Hy","x":2.55,"y":2.7},{"r":4,"c":1,"g":"Md","x":2.7,"y":2.8},{"r":4,"c":1,"g":"Th","x":2.2,"y":2.0},{"r":4,"c":1,"g":"Te","x":1.9,"y":1.7},{"r":4,"c":1,"g":"Po","x":2.25,"y":2.5},{"r":4,"c":1,"g":"Md","x":1.75,"y":1.9},
      {"r":4,"c":2,"g":"Md","x":2.2,"y":2.45},{"r":4,"c":2,"g":"Te","x":2.3,"y":2.6},{"r":4,"c":2,"g":"Md","x":1.95,"y":2.35},{"r":4,"c":2,"g":"Co","x":3.2,"y":3.3},{"r":4,"c":2,"g":"Hy","x":2.45,"y":2.7},{"r":4,"c":2,"g":"Md","x":2.6,"y":2.75},{"r":4,"c":2,"g":"Th","x":2.0,"y":2.4},{"r":4,"c":2,"g":"Te","x":2.7,"y":2.9},{"r":4,"c":2,"g":"Po","x":1.7,"y":2.1},{"r":4,"c":2,"g":"Md","x":2.05,"y":2.0},
      {"r":4,"c":3,"g":"Md","x":2.2,"y":2.2},{"r":4,"c":3,"g":"Te","x":2.4,"y":2.5},{"r":4,"c":3,"g":"Md","x":1.95,"y":1.95},{"r":4,"c":3,"g":"Co","x":2.8,"y":3.2},{"r":4,"c":3,"g":"Hy","x":2.5,"y":2.3},{"r":4,"c":3,"g":"Md","x":2.6,"y":2.55},{"r":4,"c":3,"g":"Th","x":2.3,"y":2.35},{"r":4,"c":3,"g":"Te","x":2.05,"y":2.3},{"r":4,"c":3,"g":"Po","x":2.15,"y":2.55},{"r":4,"c":3,"g":"Md","x":1.8,"y":1.75},
      {"r":4,"c":4,"g":"Md","x":2.15,"y":2.35},{"r":4,"c":4,"g":"Te","x":2.35,"y":2.7},{"r":4,"c":4,"g":"Md","x":1.9,"y":2.1},{"r":4,"c":4,"g":"Co","x":2.9,"y":3.3},{"r":4,"c":4,"g":"Hy","x":2.2,"y":2.5},{"r":4,"c":4,"g":"Md","x":2.45,"y":2.55},{"r":4,"c":4,"g":"Th","x":1.75,"y":2.0},{"r":4,"c":4,"g":"Te","x":2.6,"y":2.75},{"r":4,"c":4,"g":"Po","x":1.85,"y":2.15},{"r":4,"c":4,"g":"Md","x":1.6,"y":1.85}
    ]
  },
  "spacing": 22,
  "hconcat": [
    {
      "data": {"name": "rowlab"},
      "width": 32,
      "height": 512,
      "view": {"stroke": null},
      "encoding": {
        "y": {"field": "k", "type": "ordinal", "scale": {"type": "point", "padding": 0.576}, "axis": null}
      },
      "layer": [
        {"mark": {"type": "text", "fontSize": 26, "color": "#c1272d", "baseline": "alphabetic", "align": "center"}, "encoding": {"text": {"field": "top"}}},
        {"mark": {"type": "text", "fontSize": 26, "color": "#1e7a30", "baseline": "alphabetic", "align": "center", "dy": 22}, "encoding": {"text": {"field": "bot"}}}
      ]
    },
    {
      "data": {"name": "pts"},
      "transform": [
        {"lookup": "g", "from": {"data": {"name": "regions"}, "key": "g", "fields": ["region"]}}
      ],
      "facet": {
        "row": {"field": "r", "type": "ordinal", "header": {"labels": false, "title": "cFos expression (log10)", "titleOrient": "left", "titleFontSize": 18, "titleFontWeight": "normal", "titleColor": "#1e7a30", "titlePadding": 19}},
        "column": {"field": "c", "type": "ordinal", "header": {"labels": false, "labelOrient": "bottom", "title": "tdT expression (log10)", "titleOrient": "bottom", "titleFontSize": 18, "titleFontWeight": "normal", "titleColor": "#c1272d", "titlePadding": 10}}
      },
      "spacing": {"row": 24, "column": 17},
      "bounds": "flush",
      "spec": {
        "width": 103,
        "height": 106,
        "layer": [
          {
            "transform": [{"filter": "isValid(datum.g)"}],
            "mark": {"type": "circle", "size": 95, "opacity": 0.62},
            "encoding": {
              "x": {"field": "x", "type": "quantitative", "scale": {"domain": [0, 4], "nice": false}, "axis": {"values": [0, 2, 4], "title": null}},
              "y": {"field": "y", "type": "quantitative", "scale": {"domain": [0, 4], "nice": false}, "axis": {"values": [0, 2, 4], "title": null}},
              "color": {
                "field": "region", "type": "nominal",
                "scale": {
                  "domain": ["Cortex", "Telencephalon", "Thalamus", "Hypothalamus", "Hippocampus", "Mesencephalon", "Pons", "Medulla"],
                  "range": ["#3a2590", "#1354dc", "#2a87de", "#34b6e4", "#00a39b", "#5cc890", "#dcb04c", "#f2c400"]
                },
                "legend": {"title": null, "orient": "right", "offset": 10, "padding": 6, "strokeColor": "#8a8a8a", "symbolType": "circle", "symbolSize": 36, "symbolStrokeWidth": 0, "rowPadding": 3.7, "labelOffset": 7, "labelFontSize": 13.5}
              }
            }
          },
          {
            "transform": [{"filter": "isValid(datum.lx)"}],
            "mark": {"type": "rule", "color": "#0072bd", "strokeWidth": 1},
            "encoding": {
              "x": {"field": "lx", "type": "quantitative"},
              "y": {"field": "ly", "type": "quantitative"},
              "x2": {"field": "lx2"},
              "y2": {"field": "ly2"}
            }
          },
          {
            "transform": [{"filter": "isValid(datum.t1)"}],
            "mark": {"type": "text", "align": "left", "baseline": "alphabetic", "fontSize": 11, "color": "#222222"},
            "encoding": {
              "x": {"datum": 0.22, "type": "quantitative"},
              "y": {"datum": 3.38, "type": "quantitative"},
              "text": {"field": "t1"}
            }
          },
          {
            "transform": [{"filter": "isValid(datum.t2)"}],
            "mark": {"type": "text", "align": "left", "baseline": "alphabetic", "fontSize": 11, "color": "#222222"},
            "encoding": {
              "x": {"datum": 0.22, "type": "quantitative"},
              "y": {"datum": 2.94, "type": "quantitative"},
              "text": {"field": "t2"}
            }
          },
          {
            "transform": [{"filter": "isValid(datum.t1)"}],
            "mark": {"type": "rule", "color": "#707070", "strokeWidth": 1},
            "encoding": {"x": {"datum": 2, "type": "quantitative"}, "y": {"datum": 0, "type": "quantitative"}, "y2": {"datum": 0.12}}
          },
          {
            "transform": [{"filter": "isValid(datum.t1)"}],
            "mark": {"type": "rule", "color": "#707070", "strokeWidth": 1},
            "encoding": {"x": {"datum": 2, "type": "quantitative"}, "y": {"datum": 4, "type": "quantitative"}, "y2": {"datum": 3.88}}
          },
          {
            "transform": [{"filter": "isValid(datum.t1)"}],
            "mark": {"type": "rule", "color": "#707070", "strokeWidth": 1},
            "encoding": {"y": {"datum": 2, "type": "quantitative"}, "x": {"datum": 0, "type": "quantitative"}, "x2": {"datum": 0.12}}
          },
          {
            "transform": [{"filter": "isValid(datum.t1)"}],
            "mark": {"type": "rule", "color": "#707070", "strokeWidth": 1},
            "encoding": {"y": {"datum": 2, "type": "quantitative"}, "x": {"datum": 4, "type": "quantitative"}, "x2": {"datum": 3.88}}
          }
        ]
      }
    }
  ]
}
